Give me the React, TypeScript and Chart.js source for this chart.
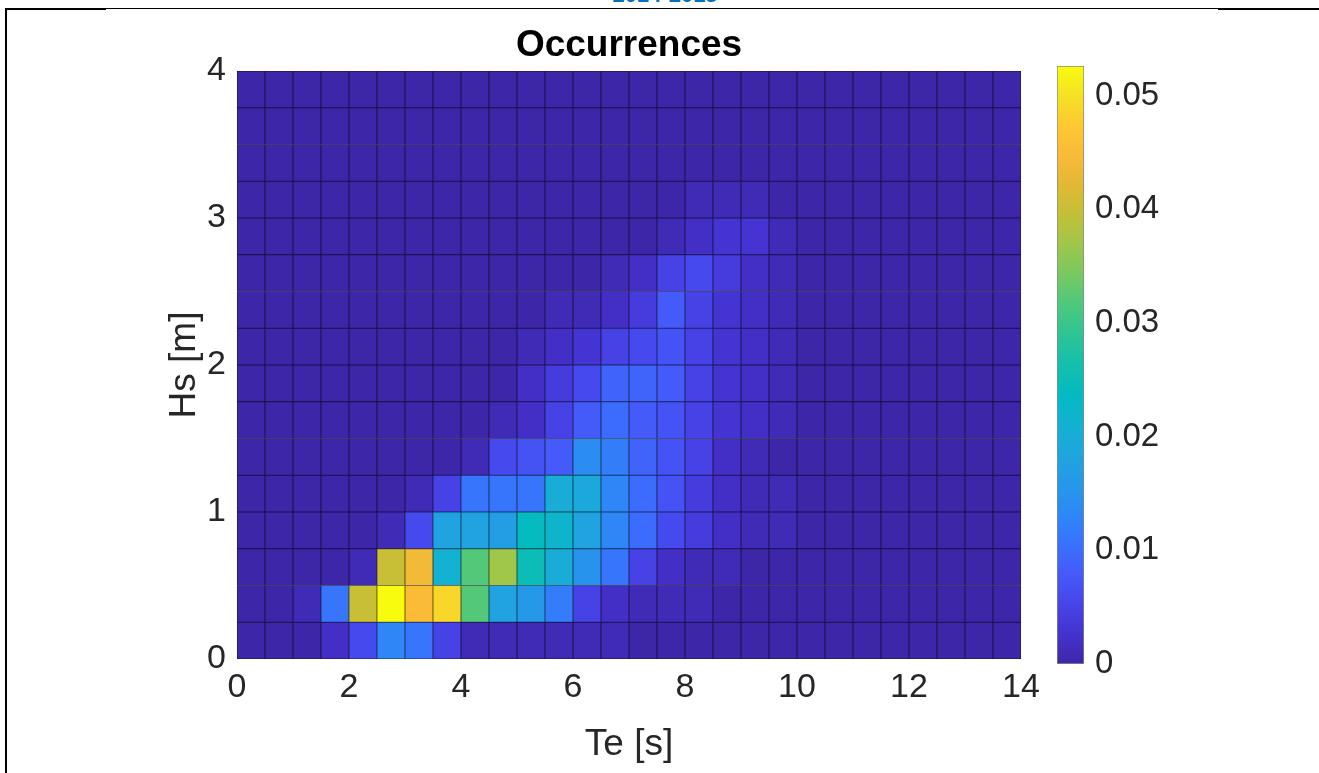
import React, { useEffect, useRef } from 'react';
import { Chart, registerables } from 'chart.js';

Chart.register(...registerables);

// ---------- data ----------
const teCenters = [0.25, 0.75, 1.25, 1.75, 2.25, 2.75, 3.25, 3.75, 4.25, 4.75, 5.25, 5.75, 6.25, 6.75,
  7.25, 7.75, 8.25, 8.75, 9.25, 9.75, 10.25, 10.75, 11.25, 11.75, 12.25, 12.75, 13.25, 13.75];
const hsLower = [0, 0.25, 0.5, 0.75, 1, 1.25, 1.5, 1.75, 2, 2.25, 2.5, 2.75, 3, 3.25, 3.5, 3.75];
const hsUpper = [0.25, 0.5, 0.75, 1, 1.25, 1.5, 1.75, 2, 2.25, 2.5, 2.75, 3, 3.25, 3.5, 3.75, 4];

const xTickValues = [0, 2, 4, 6, 8, 10, 12, 14];
const yTickValues = [0, 1, 2, 3, 4];
const cbTickValues = [0, 0.01, 0.02, 0.03, 0.04, 0.05];
const cbMax = 0.0526;

// occurrence rows (Hs bins), 28 Te bins each
const occHs000 = [0, 0, 0, 0.002, 0.006, 0.013, 0.011, 0.005, 0.001, 0.001, 0.001, 0.001, 0.001, 0.001, 0, 0, 0, 0, 0, 0, 0, 0, 0, 0, 0, 0, 0, 0];
const occHs025 = [0, 0, 0.001, 0.011, 0.040, 0.0526, 0.045, 0.049, 0.032, 0.018, 0.016, 0.012, 0.005, 0.002, 0.001, 0.001, 0.001, 0, 0, 0, 0, 0, 0, 0, 0, 0, 0, 0];
const occHs050 = [0, 0, 0, 0, 0.001, 0.040, 0.044, 0.021, 0.032, 0.037, 0.025, 0.020, 0.015, 0.011, 0.005, 0.002, 0.001, 0.001, 0, 0, 0, 0, 0, 0, 0, 0, 0, 0];
const occHs075 = [0, 0, 0, 0, 0, 0.001, 0.006, 0.018, 0.018, 0.017, 0.024, 0.022, 0.018, 0.013, 0.010, 0.006, 0.004, 0.002, 0.001, 0.001, 0, 0, 0, 0, 0, 0, 0, 0];
const occHs100 = [0, 0, 0, 0, 0, 0, 0.001, 0.005, 0.011, 0.011, 0.011, 0.020, 0.019, 0.013, 0.010, 0.007, 0.004, 0.002, 0.001, 0.001, 0, 0, 0, 0, 0, 0, 0, 0];
const occHs125 = [0, 0, 0, 0, 0, 0, 0, 0, 0.001, 0.006, 0.007, 0.008, 0.014, 0.012, 0.009, 0.007, 0.005, 0.002, 0.001, 0, 0, 0, 0, 0, 0, 0, 0, 0];
const occHs150 = [0, 0, 0, 0, 0, 0, 0, 0, 0, 0.001, 0.002, 0.005, 0.008, 0.010, 0.008, 0.007, 0.005, 0.003, 0.002, 0.001, 0, 0, 0, 0, 0, 0, 0, 0];
const occHs175 = [0, 0, 0, 0, 0, 0, 0, 0, 0, 0, 0.002, 0.004, 0.006, 0.009, 0.009, 0.008, 0.005, 0.003, 0.002, 0.001, 0, 0, 0, 0, 0, 0, 0, 0];
const occHs200 = [0, 0, 0, 0, 0, 0, 0, 0, 0, 0, 0.001, 0.002, 0.003, 0.005, 0.006, 0.007, 0.005, 0.003, 0.002, 0.001, 0, 0, 0, 0, 0, 0, 0, 0];
const occHs225 = [0, 0, 0, 0, 0, 0, 0, 0, 0, 0, 0, 0.001, 0.001, 0.002, 0.004, 0.008, 0.005, 0.003, 0.002, 0.001, 0, 0, 0, 0, 0, 0, 0, 0];
const occHs250 = [0, 0, 0, 0, 0, 0, 0, 0, 0, 0, 0, 0, 0, 0.001, 0.002, 0.005, 0.006, 0.004, 0.002, 0.001, 0, 0, 0, 0, 0, 0, 0, 0];
const occHs275 = [0, 0, 0, 0, 0, 0, 0, 0, 0, 0, 0, 0, 0, 0, 0, 0.001, 0.002, 0.003, 0.003, 0.001, 0, 0, 0, 0, 0, 0, 0, 0];
const occHs300 = [0, 0, 0, 0, 0, 0, 0, 0, 0, 0, 0, 0, 0, 0, 0, 0, 0.001, 0.001, 0.001, 0, 0, 0, 0, 0, 0, 0, 0, 0];
const occHs325 = [0, 0, 0, 0, 0, 0, 0, 0, 0, 0, 0, 0, 0, 0, 0, 0, 0, 0, 0, 0, 0, 0, 0, 0, 0, 0, 0, 0];
const occHs350 = [0, 0, 0, 0, 0, 0, 0, 0, 0, 0, 0, 0, 0, 0, 0, 0, 0, 0, 0, 0, 0, 0, 0, 0, 0, 0, 0, 0];
const occHs375 = [0, 0, 0, 0, 0, 0, 0, 0, 0, 0, 0, 0, 0, 0, 0, 0, 0, 0, 0, 0, 0, 0, 0, 0, 0, 0, 0, 0];

const occRows = [occHs000, occHs025, occHs050, occHs075, occHs100, occHs125, occHs150, occHs175,
  occHs200, occHs225, occHs250, occHs275, occHs300, occHs325, occHs350, occHs375];

// ---------- style ----------
const FONT = "'Liberation Sans', Arial, Helvetica, sans-serif";
const TEXT = '#262626';

// parula-like colormap stops [position, r, g, b]
const PARULA: number[][] = [
  [0.00, 62, 38, 168],
  [0.05, 68, 50, 206],
  [0.10, 71, 68, 233],
  [0.15, 69, 90, 249],
  [0.20, 57, 113, 254],
  [0.25, 46, 135, 247],
  [0.30, 38, 152, 233],
  [0.35, 31, 165, 222],
  [0.40, 19, 177, 210],
  [0.45, 3, 186, 194],
  [0.50, 20, 191, 173],
  [0.55, 45, 196, 150],
  [0.60, 76, 200, 125],
  [0.65, 118, 201, 99],
  [0.70, 158, 198, 75],
  [0.75, 193, 192, 56],
  [0.80, 225, 185, 52],
  [0.85, 249, 186, 56],
  [0.90, 254, 200, 50],
  [0.95, 245, 224, 37],
  [1.00, 249, 251, 14],
];

function parulaRGB(t: number): number[] {
  const p = Math.max(0, Math.min(1, t));
  for (let i = 1; i < PARULA.length; i++) {
    const a = PARULA[i - 1];
    const b = PARULA[i];
    if (p <= b[0]) {
      const f = (p - a[0]) / (b[0] - a[0]);
      return [a[1] + (b[1] - a[1]) * f, a[2] + (b[2] - a[2]) * f, a[3] + (b[3] - a[3]) * f];
    }
  }
  const l = PARULA[PARULA.length - 1];
  return [l[1], l[2], l[3]];
}

function rgbStr(c: number[], k = 1): string {
  return `rgb(${Math.round(c[0] * k)},${Math.round(c[1] * k)},${Math.round(c[2] * k)})`;
}

export default function App() {
  const mainRef = useRef<HTMLCanvasElement | null>(null);
  const cbRef = useRef<HTMLCanvasElement | null>(null);

  useEffect(() => {
    if (!mainRef.current || !cbRef.current) return;

    const datasets = occRows.map((row, r) => ({
      label: `Hs ${hsLower[r]}-${hsUpper[r]}`,
      data: teCenters.map((x) => ({ x, y: [hsLower[r], hsUpper[r]] })),
      backgroundColor: row.map((v) => rgbStr(parulaRGB(v / cbMax))),
      borderColor: row.map((v) => rgbStr(parulaRGB(v / cbMax), 0.42)),
      borderWidth: 0.8,
      borderSkipped: false as const,
      grouped: false,
      barPercentage: 1,
      categoryPercentage: 1,
    }));

    const main = new Chart(mainRef.current, {
      type: 'bar',
      data: { datasets: datasets as any },
      options: {
        animation: false,
        responsive: false,
        maintainAspectRatio: false,
        events: [],
        layout: { padding: { left: 0, right: 298, top: 0, bottom: 0 } },
        plugins: {
          legend: { display: false },
          tooltip: { enabled: false },
          title: {
            display: true,
            text: 'Occurrences',
            fullSize: false,
            color: '#000',
            font: { family: FONT, size: 37, weight: 'bold', lineHeight: 1.2 },
            padding: { top: 24, bottom: 2.6 },
          },
        },
        scales: {
          x: {
            type: 'linear',
            min: 0,
            max: 14,
            offset: false,
            afterBuildTicks: (s: any) => { s.ticks = xTickValues.map((v) => ({ value: v })); },
            afterFit: (s: any) => { s.height = 114; },
            ticks: {
              color: TEXT,
              font: { family: FONT, size: 34 },
              padding: 8,
              maxRotation: 0,
              autoSkip: false,
              callback: (v: any) => String(v),
            },
            grid: { display: false, drawTicks: false },
            border: { display: false },
            title: {
              display: true,
              text: 'Te [s]',
              color: TEXT,
              font: { family: FONT, size: 37, lineHeight: 1.2 },
              padding: { top: 0, bottom: 6 },
            },
          },
          y: {
            type: 'linear',
            min: 0,
            max: 4,
            afterBuildTicks: (s: any) => { s.ticks = yTickValues.map((v) => ({ value: v })); },
            afterFit: (s: any) => { s.width = 237; },
            ticks: {
              color: TEXT,
              font: { family: FONT, size: 34 },
              padding: 11,
              autoSkip: false,
              callback: (v: any) => String(v),
            },
            grid: { display: false, drawTicks: false },
            border: { display: false },
            title: {
              display: true,
              text: 'Hs [m]',
              color: TEXT,
              font: { family: FONT, size: 37, lineHeight: 1.2 },
              padding: { top: 163, bottom: 0 },
            },
          },
        },
      },
    });

    const cb = new Chart(cbRef.current, {
      type: 'bar',
      data: {
        labels: ['colorbar'],
        datasets: [
          {
            data: [[0, cbMax]] as any,
            backgroundColor: (ctx: any) => {
              const chart = ctx.chart;
              const a = chart.chartArea;
              if (!a) return 'rgba(0,0,0,0)';
              const g = chart.ctx.createLinearGradient(0, a.bottom, 0, a.top);
              PARULA.forEach(([p, r, gg, b]) => g.addColorStop(p, `rgb(${r},${gg},${b})`));
              return g;
            },
            borderColor: 'rgba(38,38,38,0.55)',
            borderWidth: 1,
            borderSkipped: false,
            barPercentage: 1,
            categoryPercentage: 1,
          } as any,
        ],
      },
      options: {
        animation: false,
        responsive: false,
        maintainAspectRatio: false,
        events: [],
        layout: { padding: { left: 17, right: 0, top: 66, bottom: 109 } },
        plugins: { legend: { display: false }, tooltip: { enabled: false } },
        scales: {
          x: { display: false },
          y: {
            position: 'right',
            min: 0,
            max: cbMax,
            afterBuildTicks: (s: any) => { s.ticks = cbTickValues.map((v) => ({ value: v })); },
            afterFit: (s: any) => { s.width = 235; },
            ticks: {
              color: TEXT,
              font: { family: FONT, size: 33 },
              padding: 11,
              autoSkip: false,
              callback: (v: any) => String(v),
            },
            grid: { display: false, drawTicks: false },
            border: { display: false },
          },
        },
      },
    });

    return () => {
      main.destroy();
      cb.destroy();
    };
  }, []);

  return (
    <div style={{ position: 'fixed', left: 0, top: 0, width: 1319, height: 773, background: '#fff', overflow: 'hidden' }}>
      <div style={{ position: 'absolute', left: 565, top: -16, width: 200, textAlign: 'center', fontFamily: FONT, fontWeight: 'bold', fontSize: 22, lineHeight: '22px', color: '#0070c0' }}>2014-2015</div>
      <div style={{ position: 'absolute', left: 5, top: 8, width: 1314, height: 1, background: '#000' }} />
      <div style={{ position: 'absolute', left: 5, top: 8, width: 101, height: 2, background: '#000' }} />
      <div style={{ position: 'absolute', left: 1218, top: 8, width: 101, height: 2, background: '#000' }} />
      <div style={{ position: 'absolute', left: 5, top: 8, width: 2, height: 765, background: '#000' }} />
      <canvas ref={mainRef} width={1319} height={773} style={{ position: 'absolute', left: 0, top: 0, width: 1319, height: 773 }} />
      <canvas ref={cbRef} width={279} height={773} style={{ position: 'absolute', left: 1040, top: 0, width: 279, height: 773 }} />
    </div>
  );
}
